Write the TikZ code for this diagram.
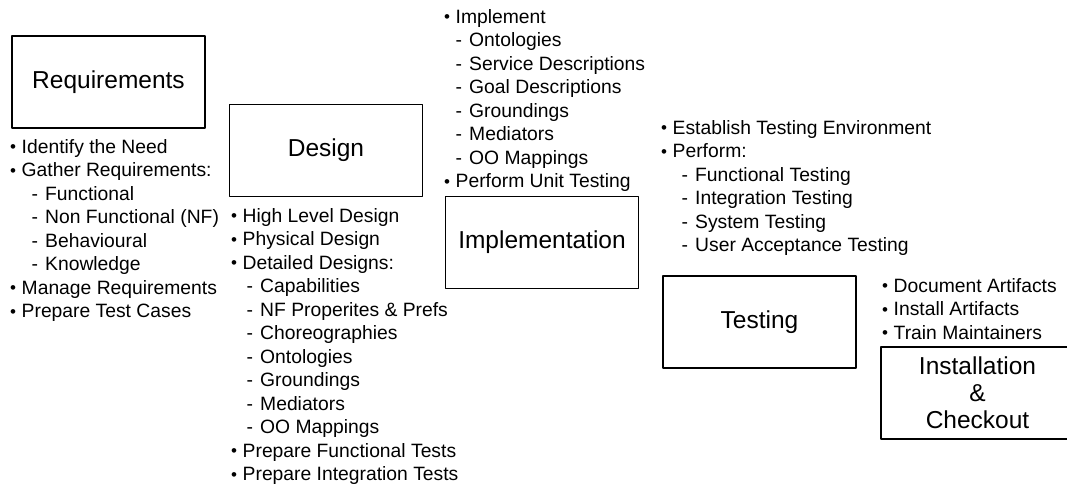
\documentclass[tikz,border=0pt]{standalone}
\usepackage{fontspec}
\setmainfont{Liberation Sans}
\newcommand{\itm}[1]{\makebox[11.5pt][l]{\fontsize{17}{17}\selectfont\raisebox{0.5pt}{\textbullet}}#1}
\newcommand{\subitm}[1]{\hspace{\subind}\makebox[13.5pt][l]{-}#1}
\begin{document}
\begin{tikzpicture}[x=1pt, y=-1pt, line join=round]
	\tikzset{phase/.style={draw, line width=1.4pt, minimum width=193pt, minimum height=92pt, align=center, inner sep=0pt, font=\fontsize{24.5}{27}\selectfont},
		tasks/.style={anchor=north west, align=left, inner sep=0pt, font=\fontsize{19.3}{23.5}\selectfont, execute at begin node={\def\subind{#1}}},
		tasks/.default=12pt}
	\useasboundingbox (0,0) rectangle (1067,486);
	\clip (0,0) rectangle (1067,486);
	% phases
	\node[phase] (req) at (108.5,82) {Requirements};
	\node[phase] (design) at (326,150.5) {Design};
	\node[phase] (impl) at (542,242.5) {Implementation};
	\node[phase] (test) at (759.5,322) {Testing};
	\node[phase] (inst) at (977.5,393) {Installation\\\&\\Checkout};
	% tasks of each phase
	\node[tasks=21.5pt] (reqtasks) at (10,139) {\itm{Identify the Need}\\\itm{Gather Requirements:}\\\subitm{Functional}\\\subitm{Non Functional (NF)}\\\subitm{Behavioural}\\\subitm{Knowledge}\\\itm{Manage Requirements}\\\itm{Prepare Test Cases}};
	\node[tasks=15.5pt] (designtasks) at (231,208) {\itm{High Level Design}\\\itm{Physical Design}\\\itm{Detailed Designs:}\\\subitm{Capabilities}\\\subitm{NF Properites \& Prefs}\\\subitm{Choreographies}\\\subitm{Ontologies}\\\subitm{Groundings}\\\subitm{Mediators}\\\subitm{OO Mappings}\\\itm{Prepare Functional Tests}\\\itm{Prepare Integration Tests}};
	\node[tasks=11.5pt] (impltasks) at (444,9) {\itm{Implement}\\\subitm{Ontologies}\\\subitm{Service Descriptions}\\\subitm{Goal Descriptions}\\\subitm{Groundings}\\\subitm{Mediators}\\\subitm{OO Mappings}\\\itm{Perform Unit Testing}};
	\node[tasks=20.5pt] (testtasks) at (661,120) {\itm{Establish Testing Environment}\\\itm{Perform:}\\\subitm{Functional Testing}\\\subitm{Integration Testing}\\\subitm{System Testing}\\\subitm{User Acceptance Testing}};
	\node[tasks] (insttasks) at (882,278) {\itm{Document Artifacts}\\\itm{Install Artifacts}\\\itm{Train Maintainers}};
\end{tikzpicture}
\end{document}
